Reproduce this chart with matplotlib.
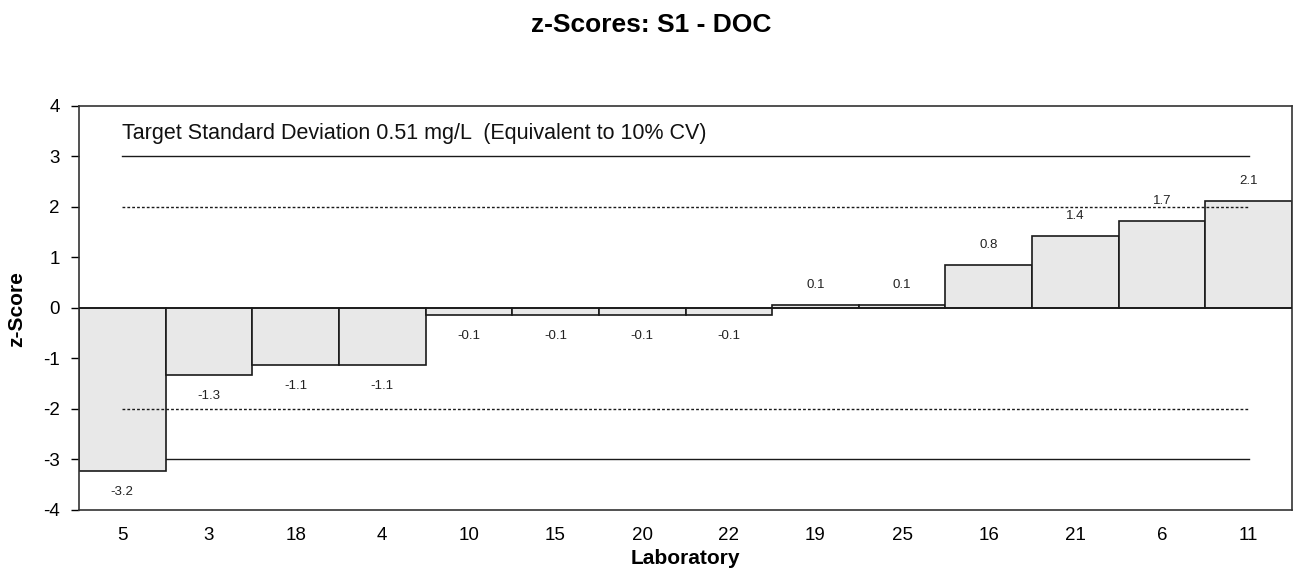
import matplotlib
matplotlib.use("Agg")
import matplotlib.pyplot as plt

labs = ["5", "3", "18", "4", "10", "15", "20", "22", "19", "25", "16", "21", "6", "11"]
zscores = [-3.22, -1.32, -1.13, -1.13, -0.14, -0.14, -0.14, -0.14, 0.06, 0.06, 0.84, 1.42, 1.71, 2.11]
shown = ["-3.2", "-1.3", "-1.1", "-1.1", "-0.1", "-0.1", "-0.1", "-0.1", "0.1", "0.1", "0.8", "1.4", "1.7", "2.1"]
title = "z-Scores: S1 - DOC"
note = "Target Standard Deviation 0.51 mg/L  (Equivalent to 10% CV)"

plt.rcParams['font.family'] = ['Liberation Sans', 'DejaVu Sans']
plt.rcParams['axes.unicode_minus'] = False
fig = plt.figure(figsize=(13.03, 5.8), dpi=100)
ax = fig.add_axes([0.0606, 0.1207, 0.931, 0.6971])

x = list(range(len(labs)))
ax.bar(x, zscores, width=1.0, color="#e8e8e8", edgecolor="#1a1a1a", linewidth=1.2, zorder=2)
ax.axhline(0, color="#1a1a1a", linewidth=1.2, zorder=3)

for y in (3, -3):
    ax.plot([0, len(labs) - 1], [y, y], color="#1a1a1a", linewidth=1.0, zorder=1)
for y in (2, -2):
    ax.plot([0, len(labs) - 1], [y, y], color="#1a1a1a", linewidth=1.0, linestyle=(0, (2, 1.5)), zorder=3)

for xi, v, s in zip(x, zscores, shown):
    off = 0.4 if v >= 0 else -0.42
    ax.text(xi, v + off, s, ha="center", va="center", fontsize=9.5, color="#222222", zorder=4)

ax.text(0.0, 3.35, note, ha="left", va="baseline", fontsize=15.5, color="#111111")

ax.set_xlim(-0.5, len(labs) - 0.5)
ax.set_ylim(-4, 4)
ax.set_yticks(range(-4, 5))
ax.set_xticks(x)
ax.set_xticklabels(labs)
ax.tick_params(axis="x", length=0, pad=12.5, labelsize=13.5)
ax.tick_params(axis="y", length=6, direction="out", labelsize=13.5, width=1.0, pad=8)
for sp in ax.spines.values():
    sp.set_color("#333333")
    sp.set_linewidth(1.2)

ax.set_xlabel("Laboratory", fontsize=15, fontweight="bold", labelpad=3.5)
fig.text(17 / 1303, 1 - 309 / 580, "z-Score", rotation=90, ha="center", va="center",
         fontsize=15, fontweight="bold")
fig.text(0.5, 1 - 32 / 580, title, ha="center", va="baseline", fontsize=19, fontweight="bold")

fig.savefig("out.png", dpi=100)
